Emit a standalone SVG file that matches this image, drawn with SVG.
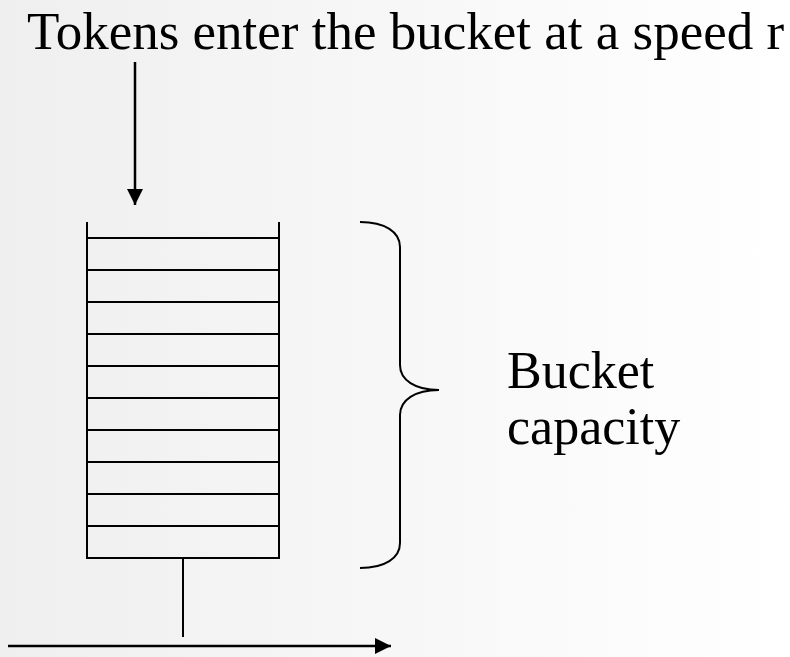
<svg xmlns="http://www.w3.org/2000/svg" width="790" height="657" viewBox="0 0 790 657">
<style>
.ln{stroke:#000;stroke-width:2;fill:none}
.ar{stroke:#000;stroke-width:2.5;fill:none}
.tx{font-family:"Liberation Serif","Times New Roman",serif;fill:#000}
</style>
<defs>
<linearGradient id="bg" x1="0" y1="0" x2="1" y2="0">
<stop offset="0" stop-color="#efefef"/>
<stop offset="1" stop-color="#ffffff"/>
</linearGradient>
<marker id="ah" viewBox="0 0 16 16" refX="16" refY="8" markerWidth="16" markerHeight="16" markerUnits="userSpaceOnUse" orient="auto">
<path d="M0,0 L16,8 L0,16 Z" fill="#000"/>
</marker>
</defs>
<rect width="790" height="657" fill="url(#bg)"/>
<g id="title"><text class="tx" x="27" y="49" font-size="53">Tokens enter the bucket at a speed r</text></g>
<g id="bucket">
<path class="ln" d="M87,222 V558 H279 V222"/>
<path class="ln" d="M87,238 H279 M87,270 H279 M87,302 H279 M87,334 H279 M87,366 H279 M87,398 H279 M87,430 H279 M87,462 H279 M87,494 H279 M87,526 H279"/>
</g>
<g id="brace">
<path class="ln" d="M360,222 C385,222 400,232 400,247 V365 C400,380 415,390 439,390 C415,390 400,400 400,415 V543 C400,558 385,568 360,568"/>
</g>
<g id="label"><text class="tx" font-size="52"><tspan x="507" y="388">Bucket</tspan><tspan x="507" y="444">capacity</tspan></text></g>
<g id="connectors">
<path class="ar" d="M135,62 V205" marker-end="url(#ah)"/>
<path class="ln" d="M183,558 V637"/>
<path class="ar" d="M8,646 H391" marker-end="url(#ah)"/>
</g>
</svg>
